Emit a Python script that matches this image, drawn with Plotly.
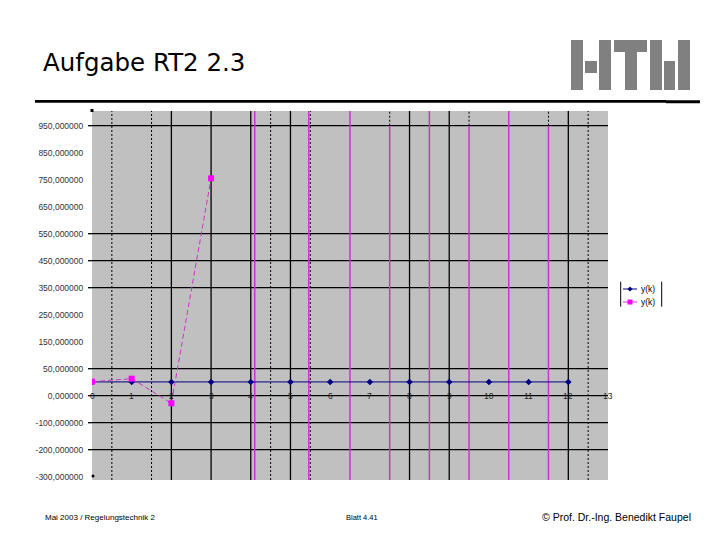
import plotly.graph_objects as go

# ---------------- data ----------------
k_blue = [0, 1, 2, 3, 4, 5, 6, 7, 8, 9, 10, 11, 12]
y_blue = [51, 51, 51, 51, 51, 51, 51, 51, 51, 51, 51, 51, 51]
k_magenta = [0, 1, 2, 3]
y_magenta = [52, 63, -28, 805]
series_names = ["y(k)", "y(k)"]

x_tick_vals = [0, 1, 2, 3, 4, 5, 6, 7, 8, 9, 10, 11, 12, 13]
x_tick_text = ["0", "1", "2", "3", "4", "5", "6", "7", "8", "9", "10", "11", "12", "13"]
y_tick_vals = [1000, 900, 800, 700, 600, 500, 400, 300, 200, 100, 0, -100, -200, -300]
y_tick_text = ["950,000000", "850,000000", "750,000000", "650,000000", "550,000000",
               "450,000000", "350,000000", "250,000000", "150,000000", "50,000000",
               "0,000000", "-100,000000", "-200,000000", "-300,000000"]

# grid artefacts as seen in the picture
grid_h_vals = [1000, 600, 500, 400, 100, 0, -100, -200]
grid_v_solid = [2, 3, 4, 5, 8, 9, 12]
grid_v_dotted = [0.5, 1.5, 4.5, 5.5, 12.5]
grid_v_dotted_stub = [7.5, 9.5, 11.5]
magenta_v_full = [4.1, 5.46, 6.5, 8.5, 10.5]
magenta_v_partial = [7.5, 9.5, 11.5]

title_text = "Aufgabe RT2 2.3"
footer_left = "Mai 2003 / Regelungstechnik 2"
footer_mid = "Blatt 4.41"
footer_right = "© Prof. Dr.-Ing. Benedikt Faupel"

# ---------------- layout geometry ----------------
OFF = 8  # default page margin of the html body
W, H = 720 - OFF, 540 - OFF
PW, PH = 516, 369
ML, MT = 92 - OFF, 111 - OFF
MR = W - ML - PW
MB = H - MT - PH
Y_RANGE = [-312.2, 1054.4]
X_RANGE = [0, 13]


def px(xp):
    return (xp - OFF - ML) / PW


def py(yp):
    return (H - MB - (yp - OFF)) / PH


fig = go.Figure()
fig.add_trace(go.Scatter(
    x=k_blue, y=y_blue, name=series_names[0], mode="lines+markers",
    line=dict(color="#000080", width=1),
    marker=dict(symbol="diamond", size=5, color="#000080"),
    showlegend=False,
))
fig.add_trace(go.Scatter(
    x=k_magenta, y=y_magenta, name=series_names[1], mode="lines+markers",
    line=dict(color="#CC33CC", width=1, dash="5px,3px"),
    marker=dict(symbol="square", size=6, color="#FF00FF"),
    showlegend=False,
))

shapes = []
for v in grid_h_vals:
    shapes.append(dict(type="line", xref="x", yref="y", x0=X_RANGE[0], x1=X_RANGE[1], y0=v, y1=v,
                       line=dict(color="black", width=1.3), layer="below"))
    shapes.append(dict(type="line", xref="paper", yref="y", x0=px(88), x1=px(92), y0=v, y1=v,
                       line=dict(color="black", width=1.3), layer="above"))
for v in grid_v_solid:
    shapes.append(dict(type="line", xref="x", yref="y", x0=v, x1=v, y0=Y_RANGE[0], y1=Y_RANGE[1],
                       line=dict(color="black", width=1.3), layer="below"))
for v in grid_v_dotted:
    shapes.append(dict(type="line", xref="x", yref="y", x0=v, x1=v, y0=Y_RANGE[0], y1=Y_RANGE[1],
                       line=dict(color="black", width=1, dash="2px,2px"), layer="below"))
for v in grid_v_dotted_stub:
    shapes.append(dict(type="line", xref="x", yref="y", x0=v, x1=v, y0=1000, y1=Y_RANGE[1],
                       line=dict(color="black", width=1, dash="2px,2px"), layer="below"))
for v in magenta_v_full:
    shapes.append(dict(type="line", xref="x", yref="y", x0=v, x1=v, y0=Y_RANGE[0], y1=Y_RANGE[1],
                       line=dict(color="#CC33CC", width=1.5), layer="below"))
for v in magenta_v_partial:
    shapes.append(dict(type="line", xref="x", yref="y", x0=v, x1=v, y0=Y_RANGE[0], y1=1000,
                       line=dict(color="#CC33CC", width=1.5), layer="below"))

# small corner markers
shapes.append(dict(type="rect", xref="paper", yref="paper", x0=px(90.5), x1=px(93.5), y0=py(112), y1=py(109),
                   fillcolor="black", line=dict(width=0)))
shapes.append(dict(type="circle", xref="paper", yref="paper", x0=px(91.5), x1=px(94.5), y0=py(477.5), y1=py(474.5),
                   fillcolor="black", line=dict(width=0)))

# title rule
shapes.append(dict(type="rect", xref="paper", yref="paper", x0=px(35), x1=px(666), y0=py(102.7), y1=py(100),
                   fillcolor="black", line=dict(width=0)))
shapes.append(dict(type="rect", xref="paper", yref="paper", x0=px(666), x1=px(700), y0=py(103.3), y1=py(100.3),
                   fillcolor="black", line=dict(width=0)))

# HTW logo
logo_rects = [
    (571, 583, 40, 90), (585, 597, 61, 73), (599, 611, 40, 90),
    (614, 647, 40, 52), (625, 637, 52, 90),
    (650, 662, 40, 90), (664, 675, 61, 90), (678, 690, 40, 90),
]
for x0, x1, y0, y1 in logo_rects:
    shapes.append(dict(type="rect", xref="paper", yref="paper", x0=px(x0), x1=px(x1), y0=py(y1), y1=py(y0),
                       fillcolor="#808080", line=dict(width=0)))

# legend (drawn compactly like the original)
for xb in (620.7, 661.7):
    shapes.append(dict(type="line", xref="paper", yref="paper", x0=px(xb), x1=px(xb), y0=py(306.7), y1=py(281.7),
                       line=dict(color="black", width=1)))
legend_rows = [289, 302]
legend_colors = ["#000080", "#CC33CC"]
legend_marker = ["#000080", "#FF00FF"]
for i, yr in enumerate(legend_rows):
    shapes.append(dict(type="line", xref="paper", yref="paper", x0=px(623), x1=px(637), y0=py(yr), y1=py(yr),
                       line=dict(color=legend_colors[i], width=1)))
    if i == 0:
        shapes.append(dict(type="path", xref="paper", yref="paper",
                           path="M {a},{b} L {c},{d} L {a},{e} L {f},{d} Z".format(
                               a=px(630), b=py(yr - 2.5), c=px(632.5), d=py(yr), e=py(yr + 2.5), f=px(627.5)),
                           fillcolor=legend_marker[i], line=dict(width=0)))
    else:
        shapes.append(dict(type="rect", xref="paper", yref="paper", x0=px(627.5), x1=px(632.5),
                           y0=py(yr + 2.5), y1=py(yr - 2.5), fillcolor=legend_marker[i], line=dict(width=0)))

annotations = []
for i, yr in enumerate(legend_rows):
    annotations.append(dict(x=px(639), y=py(yr), xref="paper", yref="paper", text=series_names[i],
                            showarrow=False, xanchor="left", yanchor="middle",
                            font=dict(family="Liberation Sans", size=8.5, color="black")))
for v, t in zip(x_tick_vals, x_tick_text):
    annotations.append(dict(x=v, y=0, xref="x", yref="y", text=t, showarrow=False,
                            xanchor="center", yanchor="middle",
                            font=dict(family="Liberation Sans", size=8.5, color="#222")))
annotations.append(dict(x=px(43), y=py(517), xref="paper", yref="paper", text=footer_left, showarrow=False,
                        xanchor="left", yanchor="middle", font=dict(family="Liberation Sans", size=8, color="black")))
annotations.append(dict(x=px(344), y=py(517), xref="paper", yref="paper", text=footer_mid, showarrow=False,
                        xanchor="left", yanchor="middle", font=dict(family="Liberation Sans", size=7.5, color="black")))
annotations.append(dict(x=px(693), y=py(517), xref="paper", yref="paper", text=footer_right, showarrow=False,
                        xanchor="right", yanchor="middle", font=dict(family="Liberation Sans", size=10.5, color="black")))

fig.update_layout(
    width=W, height=H,
    margin=dict(l=ML, r=MR, t=MT, b=MB),
    paper_bgcolor="white", plot_bgcolor="#C0C0C0",
    title=dict(text=title_text, x=(43 - OFF) / W, y=1 - (62 - OFF) / H, xref="container", yref="container",
               xanchor="left", yanchor="middle",
               font=dict(family="DejaVu Sans", size=24.5, color="black")),
    xaxis=dict(range=X_RANGE, showgrid=False, zeroline=False, showticklabels=False, ticks="",
               showline=False, fixedrange=True),
    yaxis=dict(range=Y_RANGE, showgrid=False, zeroline=False, tickvals=y_tick_vals, ticktext=y_tick_text,
               ticks="outside", ticklen=6, tickcolor="rgba(0,0,0,0)", showline=False,
               tickfont=dict(family="Liberation Sans", size=8.5, color="#333")),
    showlegend=False,
    shapes=shapes, annotations=annotations,
)

fig.write_html("out.html")
